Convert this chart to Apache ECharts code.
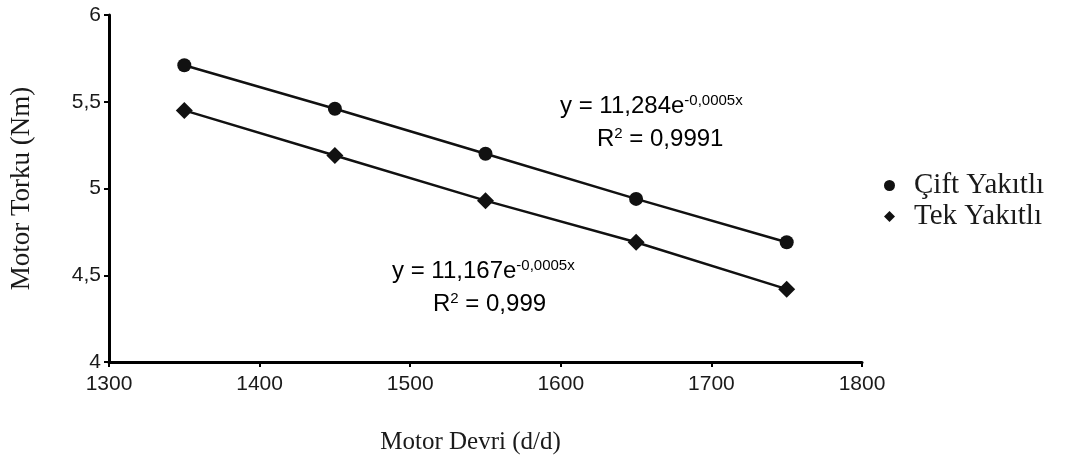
<!DOCTYPE html>
<html>
<head>
<meta charset="utf-8">
<script src="https://cdn.jsdelivr.net/npm/echarts@6/dist/echarts.min.js"></script>
<style>html,body{margin:0;padding:0;background:#fff}#c{width:1089px;height:467px}</style>
</head>
<body>
<div id="c"></div>
<script>
const xValues = [1350, 1450, 1550, 1650, 1750];
const ciftValues = [5.71, 5.46, 5.20, 4.94, 4.69];
const tekValues = [5.45, 5.19, 4.93, 4.69, 4.42];
const seriesNames = ['Çift Yakıtlı', 'Tek Yakıtlı'];
const eq1 = ['y = 11,284e', '-0,0005x', 'R', '2', ' = 0,9991'];
const eq2 = ['y = 11,167e', '-0,0005x', 'R', '2', ' = 0,999'];

const chart = echarts.init(document.getElementById('c'));
const sans = 'Liberation Sans, Arial, sans-serif';
const serif = 'Liberation Serif, Times New Roman, serif';
const richEq = {
  m: {fontFamily: sans, fontSize: 24, color: '#1a1a1a'},
  s: {fontFamily: sans, fontSize: 15, color: '#1a1a1a', verticalAlign: 'top', padding: [0,0,12,0]}
};
function eqText(e, x, y) {
  return [
    {type: 'text', left: x[0], top: y[0], style: {text: '{m|' + e[0] + '}{s|' + e[1] + '}', rich: richEq}},
    {type: 'text', left: x[1], top: y[1], style: {text: '{m|' + e[2] + '}{s|' + e[3] + '}{m|' + e[4] + '}', rich: richEq}}
  ];
}
chart.setOption({
  animation: false,
  backgroundColor: '#fff',
  grid: {left: 107, right: 227, top: 15, bottom: 105},
  xAxis: {
    type: 'value', min: 1300, max: 1800, interval: 100,
    name: 'Motor Devri (d/d)', nameLocation: 'middle', nameGap: 68,
    nameTextStyle: {fontFamily: serif, fontSize: 25, color: '#1a1a1a', padding: [0, 30, 0, 0]},
    axisLine: {lineStyle: {color: '#000', width: 3}},
    axisTick: {length: 5, lineStyle: {color: '#000', width: 2}},
    axisLabel: {fontFamily: sans, fontSize: 21, color: '#1a1a1a', margin: 12,
      formatter: v => String(v)},
    splitLine: {show: false}
  },
  yAxis: {
    type: 'value', min: 4, max: 6, interval: 0.5,
    name: 'Motor Torku (Nm)', nameLocation: 'middle', nameGap: 74,
    nameTextStyle: {fontFamily: serif, fontSize: 27, color: '#1a1a1a'},
    axisLine: {show: true, lineStyle: {color: '#000', width: 3}},
    axisTick: {show: true, length: 5, lineStyle: {color: '#000', width: 2}},
    axisLabel: {fontFamily: sans, fontSize: 21, color: '#1a1a1a', margin: 8,
      formatter: v => String(v).replace('.', ',')},
    splitLine: {show: false}
  },
  legend: {
    orient: 'vertical', left: 879, top: 166, itemGap: 2,
    itemWidth: 11, itemHeight: 11,
    textStyle: {fontFamily: serif, fontSize: 29, color: '#1a1a1a', padding: [0, 0, 0, 14]},
    data: [{name: seriesNames[0], icon: 'circle'}, {name: seriesNames[1], icon: 'diamond'}]
  },
  series: [
    {name: seriesNames[0], type: 'line', symbol: 'circle', symbolSize: 14,
     data: xValues.map((x, i) => [x, ciftValues[i]]),
     lineStyle: {color: '#111', width: 2.5}, itemStyle: {color: '#111'}},
    {name: seriesNames[1], type: 'line', symbol: 'diamond', symbolSize: 17,
     data: xValues.map((x, i) => [x, tekValues[i]]),
     lineStyle: {color: '#111', width: 2.5}, itemStyle: {color: '#111'}}
  ],
  graphic: eqText(eq1, [560, 597], [93, 126]).concat(eqText(eq2, [392, 433], [258, 291]))
});
</script>
</body>
</html>
